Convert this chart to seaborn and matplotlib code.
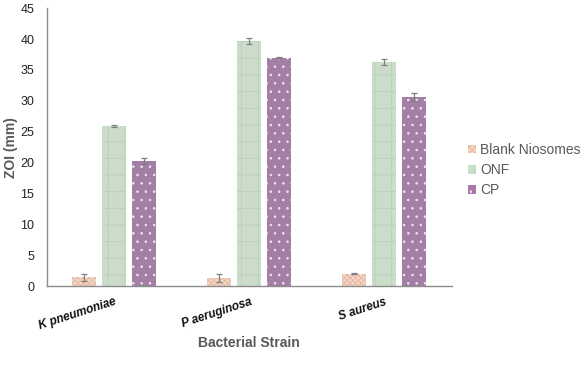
import matplotlib
matplotlib.use("Agg")
import matplotlib.pyplot as plt
import seaborn as sns
import pandas as pd
import numpy as np
from matplotlib.patches import Patch

strains = ["K pneumoniae", "P aeruginosa", "S aureus"]
groups = ["Blank Niosomes", "ONF", "CP"]
blank = [1.4, 1.3, 2.0]
onf = [25.9, 39.7, 36.3]
cp = [20.3, 37.0, 30.6]
blank_err = [0.6, 0.7, 0.1]
onf_err = [0.1, 0.5, 0.5]
cp_err = [0.5, 0.1, 0.7]

colors = ["#f5d5c3", "#cadfc8", "#a978ab"]
hatch_cols = ["#e8b49a", "#b8d0b5", "#f0e4f0"]
hatches = ["xxxxxx", "+", ".."]

rows = []
for g, vals, errs in zip(groups, [blank, onf, cp], [blank_err, onf_err, cp_err]):
    for s, v, e in zip(strains, vals, errs):
        rows.append({"Strain": s, "Group": g, "ZOI": v, "err": e})
df = pd.DataFrame(rows)

sns.set_style("white")
plt.rcParams["font.family"] = ["Liberation Sans", "DejaVu Sans"]
plt.rcParams["hatch.linewidth"] = 0.6

fig = plt.figure(figsize=(5.86, 3.70), dpi=100)
ax = fig.add_axes([0.08, 0.227, 0.691, 0.751])

sns.barplot(data=df, x="Strain", y="ZOI", hue="Group", hue_order=groups,
            order=strains, palette=colors, width=0.667, gap=0.2,
            errorbar=None, ax=ax, legend=False, linewidth=0)

for gi, g in enumerate(groups):
    cont = ax.containers[gi]
    sub = df[df.Group == g].set_index("Strain").loc[strains]
    for bar, v, e in zip(cont, sub["ZOI"], sub["err"]):
        bar.set_hatch(hatches[gi])
        bar.set_edgecolor(hatch_cols[gi])
        bar.set_linewidth(0)
        cx = bar.get_x() + bar.get_width() / 2
        ax.errorbar(cx, v, yerr=e, color="#7f7f7f", capsize=2.5,
                    elinewidth=0.9, capthick=0.9, fmt="none")

ax.set_ylim(0, 45)
ax.set_xlim(-0.5, 2.5)
ax.set_yticks(np.arange(0, 46, 5))
ax.tick_params(axis="both", length=0)
ax.tick_params(axis="y", labelsize=9, labelcolor="#222222", pad=9)
ax.tick_params(axis="x", pad=7)
for lab in ax.get_xticklabels():
    lab.set_rotation(18)
    lab.set_fontweight("bold")
    lab.set_fontstyle("italic")
    lab.set_fontsize(8.5)
    lab.set_color("#111111")
    lab.set_ha("right")
    lab.set_rotation_mode("anchor")
ax.set_ylabel("ZOI (mm)", fontsize=10, fontweight="bold", color="#595959", labelpad=2)
ax.set_xlabel("Bacterial Strain", fontsize=10, fontweight="bold", color="#595959", labelpad=3)

sns.despine(ax=ax)
for sp in ["left", "bottom"]:
    ax.spines[sp].set_color("#8c8c8c")
    ax.spines[sp].set_linewidth(1.0)

handles = [Patch(facecolor=colors[i], edgecolor=hatch_cols[i], hatch=hatches[i], linewidth=0)
           for i in range(3)]
leg = fig.legend(handles, groups, loc="center left", bbox_to_anchor=(0.777, 0.54),
                 frameon=False, fontsize=10, handlelength=0.6, handleheight=0.6,
                 handletextpad=0.3, labelspacing=0.45)
for t in leg.get_texts():
    t.set_color("#595959")

fig.savefig("out.png", dpi=100)
